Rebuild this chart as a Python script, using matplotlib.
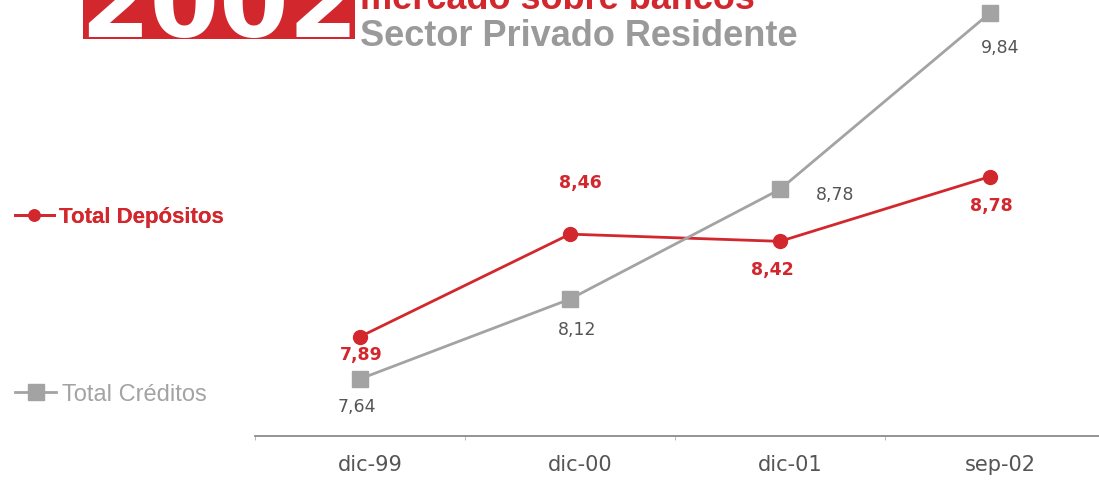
import matplotlib
matplotlib.use("Agg")
import matplotlib.pyplot as plt
import matplotlib.patches as patches
import matplotlib.transforms as mtransforms

# data
categories = ["dic-99", "dic-00", "dic-01", "sep-02"]
depositos = [7.89, 8.46, 8.42, 8.78]
creditos = [7.64, 8.12, 8.78, 9.84]
series_names = ["Total Depósitos", "Total Créditos"]

RED = "#d3272e"
GRAY = "#a3a3a3"
DARK = "#555555"

# label offsets in pixels (style only)
dep_offsets = [(1, -17), (10, 52), (-8, -28), (1, -28)]
cred_offsets = [(-3, -27), (7, -30), (55, -5), (10, -34)]

W, H = 1099, 481
fig = plt.figure(figsize=(W / 100, H / 100), dpi=100)
fig.patch.set_facecolor("white")

x = list(range(len(categories)))
left_px, axis_px = 255, 437
ax = fig.add_axes([left_px / W, (H - axis_px) / H, 1 - left_px / W, axis_px / H])
ax.set_xlim(-0.5, (W - 360) / 210)
ax.set_ylim(7.338, 9.767)
ax.patch.set_alpha(0)
ax2 = ax.twinx()
ax2.set_ylim(7.297, 9.924)

ax.plot(x, depositos, color=RED, lw=2.0, marker="o", ms=10, mec=RED, mfc=RED,
        label=series_names[0], zorder=3)
ax2.plot(x, creditos, color=GRAY, lw=2.0, marker="s", ms=12, mec=GRAY, mfc=GRAY,
         label=series_names[1], zorder=3)

for xi, v, off in zip(x, depositos, dep_offsets):
    ax.annotate(f"{v:.2f}".replace(".", ","), (xi, v), xytext=off,
                textcoords="offset pixels", ha="center", va="center",
                color=RED, fontsize=12.5, fontweight="bold", family="DejaVu Sans")
for xi, v, off in zip(x, creditos, cred_offsets):
    ax2.annotate(f"{v:.2f}".replace(".", ","), (xi, v), xytext=off,
                 textcoords="offset pixels", ha="center", va="center",
                 color=DARK, fontsize=12.5, family="DejaVu Sans")

for a in (ax, ax2):
    for s in ("top", "right", "left"):
        a.spines[s].set_visible(False)
    a.set_yticks([])
ax2.spines["bottom"].set_visible(False)
ax.spines["bottom"].set_color("#8a8a8a")
ax.spines["bottom"].set_linewidth(1.3)

ax.set_xticks(x)
ax.set_xticklabels(categories, fontsize=15, color=DARK, family="DejaVu Sans")
ax.tick_params(axis="x", which="major", length=0, pad=13)
ax.set_xticks([i - 0.5 for i in x], minor=True)
ax.tick_params(axis="x", which="minor", length=3, color="#b0b0b0", direction="out")
shift = mtransforms.ScaledTranslation(10 / 100, 0, fig.dpi_scale_trans)
for lab in ax.get_xticklabels():
    lab.set_transform(lab.get_transform() + shift)

# legends on the left
h1, l1 = ax.get_legend_handles_labels()
h2, l2 = ax2.get_legend_handles_labels()
leg1 = fig.legend(h1, l1, loc="center left", bbox_to_anchor=(15 / W, 1 - 218 / H),
                  frameon=False, handlelength=1.75, handletextpad=0.25, borderpad=0,
                  borderaxespad=0, prop={"family": "Liberation Sans", "weight": "bold", "size": 16},
                  labelcolor=RED, markerscale=0.8)
leg2 = fig.legend(h2, l2, loc="center left", bbox_to_anchor=(15 / W, 1 - 395 / H),
                  frameon=False, handlelength=1.75, handletextpad=0.25, borderpad=0,
                  borderaxespad=0, prop={"family": "Liberation Sans", "size": 17},
                  labelcolor=GRAY, markerscale=1.0)
fig.add_artist(leg1)

# header, cut off at the top as in the source
rect = patches.Rectangle((83 / W, 1 - 40 / H), (355 - 83) / W, 40 / H,
                         transform=fig.transFigure, facecolor=RED, edgecolor="none")
fig.add_artist(rect)
t = fig.text(219 / W, 1 - 37 / H, "2002", ha="center", va="baseline", color="white",
             fontsize=72, fontweight="bold", family="DejaVu Sans")
t.set_clip_path(rect)
fig.text(360 / W, 1 - 9 / H, "mercado sobre bancos", ha="left", va="baseline",
         color=RED, fontsize=26, fontweight="bold", family="Liberation Sans")
fig.text(360 / W, 1 - 46 / H, "Sector Privado Residente", ha="left", va="baseline",
         color="#9a9a9a", fontsize=26, fontweight="bold", family="Liberation Sans")

fig.savefig("out.png", dpi=100)
